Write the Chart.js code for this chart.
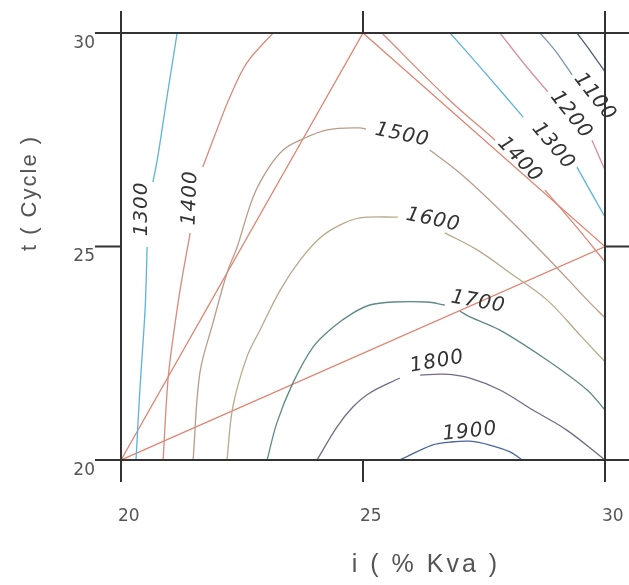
<!DOCTYPE html>
<html>
<head>
<meta charset="utf-8">
<script src="https://cdn.jsdelivr.net/npm/chart.js@4/dist/chart.umd.min.js"></script>
<style>
  html, body { margin: 0; padding: 0; background: #fff; }
  #wrap { width: 629px; height: 585px; position: relative; }
</style>
</head>
<body>
<div id="wrap"><canvas id="c" width="629" height="585"></canvas></div>
<script>
// Axis ticks: current i (% Kva) and weld time t (cycles)
const iTicks = [20, 25, 30];
const tTicks = [20, 25, 30];

// Contour levels
const levels = [1000, 1100, 1200, 1300, 1400, 1500, 1600, 1700, 1800, 1900];

// Contour paths (i, t). null = break in the line where the level label sits.
const c1000_i = [29.42, 29.71, 30.00];
const c1000_t = [30.00, 29.56, 29.09];

const c1100_i = [28.66, 28.99, 29.32];
const c1100_t = [30.00, 29.56, 29.02];

const c1200_i = [27.83, 28.35, 28.82, null, 29.73, 30.00];
const c1200_t = [30.00, 29.25, 28.62, null, 27.49, 26.79];

const c1300a_i = [26.80, 27.56, 28.31, null, 29.42, 30.00];
const c1300a_t = [30.00, 29.02, 28.03, null, 26.86, 25.69];

const c1300b_i = [21.16, 20.95, 20.76, 20.66, null, 20.54, 20.50, 20.39, 20.31];
const c1300b_t = [30.00, 28.50, 27.10, 26.51, null, 24.99, 23.58, 21.64, 20.00];

const c1400a_i = [25.39, 26.74, 27.73, null, 28.76, 29.38, 30.00];
const c1400a_t = [30.00, 28.48, 27.49, null, 26.32, 25.50, 24.64];

const c1400b_i = [23.14, 22.60, 22.25, 21.98, 21.69, null, 21.43, 21.22, 21.07, 20.97, 20.87];
const c1400b_t = [30.00, 29.30, 28.50, 27.73, 26.86, null, 25.32, 23.98, 22.81, 21.87, 20.00];

const c1500_i = [21.49, 21.63, 21.90, 22.19, 22.40, 22.73, 23.02, 23.35, 23.70, 24.26, 24.94, 25.06, null, 26.38, 27.00, 27.83, 28.80, 29.63, 30.00];
const c1500_t = [20.00, 22.04, 23.21, 24.38, 24.99, 26.16, 26.79, 27.26, 27.49, 27.73, 27.78, 27.75, null, 27.26, 26.72, 25.85, 24.75, 23.75, 23.33];

const c1600_i = [22.19, 22.31, 22.60, 22.87, 23.29, 23.70, 24.11, 24.52, 24.94, 25.72, null, 26.69, 27.36, 28.04, 28.80, 29.48, 30.00];
const c1600_t = [20.00, 21.24, 22.41, 23.04, 23.98, 24.68, 25.20, 25.50, 25.67, 25.69, null, 25.32, 24.92, 24.38, 23.75, 22.93, 22.30];

const c1700_i = [23.02, 23.22, 23.55, 23.97, 24.38, 24.79, 25.14, 25.62, 26.32, 26.69, null, 27.00, 27.21, 27.83, 28.80, 29.63, 30.00];
const c1700_t = [20.00, 20.87, 21.80, 22.65, 23.11, 23.44, 23.63, 23.70, 23.70, 23.63, null, 23.49, 23.35, 23.04, 22.34, 21.64, 21.17];

const c1800_i = [24.05, 24.46, 24.79, 25.14, 25.76, null, 26.18, 26.69, 27.21, 27.83, 28.51, 29.21, 30.00];
const c1800_t = [20.00, 20.77, 21.24, 21.57, 21.92, null, 21.99, 22.01, 21.92, 21.64, 21.17, 20.70, 20.00];

const c1900_i = [25.76, 26.43, 26.80, 27.21, 27.62, 28.04, 28.29];
const c1900_t = [20.00, 20.35, 20.42, 20.44, 20.35, 20.19, 20.00];

// Experimental region (triangle)
const region_i = [20, 25, 30, 20];
const region_t = [20, 30, 25, 20];

// Line colours per level
const levelColor = {
  1000: '#4e5e74', 1100: '#7896ac', 1200: '#d88fa8', 1300: '#5cb4da',
  1400: '#d98a7a', 1500: '#bb9c8a', 1600: '#b9a98a', 1700: '#5d8a88',
  1800: '#736a84', 1900: '#4863a0'
};

function pts(xs, ys) {
  return xs.map((x, k) => (x === null ? { x: null, y: null } : { x: x, y: ys[k] }));
}

const contours = [
  { level: 1000, i: c1000_i, t: c1000_t },
  { level: 1100, i: c1100_i, t: c1100_t },
  { level: 1200, i: c1200_i, t: c1200_t },
  { level: 1300, i: c1300a_i, t: c1300a_t },
  { level: 1300, i: c1300b_i, t: c1300b_t },
  { level: 1400, i: c1400a_i, t: c1400a_t },
  { level: 1400, i: c1400b_i, t: c1400b_t },
  { level: 1500, i: c1500_i, t: c1500_t },
  { level: 1600, i: c1600_i, t: c1600_t },
  { level: 1700, i: c1700_i, t: c1700_t },
  { level: 1800, i: c1800_i, t: c1800_t },
  { level: 1900, i: c1900_i, t: c1900_t }
];

const datasets = contours.map(c => ({
  label: String(c.level),
  data: pts(c.i, c.t),
  showLine: true,
  borderColor: levelColor[c.level],
  borderWidth: 1.3,
  pointRadius: 0,
  tension: 0.35,
  spanGaps: false
}));

datasets.push({
  label: 'region',
  data: pts(region_i, region_t),
  showLine: true,
  borderColor: '#e2826f',
  borderWidth: 1.3,
  pointRadius: 0,
  tension: 0
});

// Level labels placed on the contours: [level, i, t, rotation in degrees]
const labelPlacement = [
  [1100, 29.79, 28.50, 52],
  [1200, 29.30, 28.08, 52],
  [1300, 28.93, 27.35, 50],
  [1400, 28.24, 27.03, 46],
  [1500, 25.81, 27.61, 12],
  [1600, 26.45, 25.62, 12],
  [1700, 27.38, 23.70, 10],
  [1800, 26.53, 22.30, -10],
  [1900, 27.21, 20.66, -6],
  [1300, 20.43, 25.88, -90],
  [1400, 21.43, 26.14, -88]
];

const framePlugin = {
  id: 'frame',
  afterDatasetsDraw(chart) {
    const ctx = chart.ctx;
    const xs = chart.scales.x, ys = chart.scales.y;
    const W = chart.width;

    // contour level labels
    ctx.save();
    ctx.fillStyle = '#333';
    ctx.font = 'italic 20px "DejaVu Sans"';
    ctx.letterSpacing = '1px';
    ctx.textAlign = 'center';
    ctx.textBaseline = 'middle';
    labelPlacement.forEach(([lv, i, t, a]) => {
      ctx.save();
      ctx.translate(xs.getPixelForValue(i), ys.getPixelForValue(t));
      ctx.rotate(a * Math.PI / 180);
      ctx.fillText(String(lv), 0, 0);
      ctx.restore();
    });
    ctx.restore();

    // frame and tick lines
    const L = xs.getPixelForValue(iTicks[0]);
    const R = xs.getPixelForValue(iTicks[iTicks.length - 1]);
    const T = ys.getPixelForValue(tTicks[tTicks.length - 1]);
    const B = ys.getPixelForValue(tTicks[0]);
    ctx.save();
    ctx.strokeStyle = '#333';
    ctx.lineWidth = 2;
    ctx.beginPath();
    tTicks.forEach(v => {
      const y = ys.getPixelForValue(v);
      if (v === tTicks[0] || v === tTicks[tTicks.length - 1]) {
        ctx.moveTo(L - 26, y); ctx.lineTo(W, y);
      } else {
        ctx.moveTo(L - 26, y); ctx.lineTo(L, y);
        ctx.moveTo(R, y); ctx.lineTo(W, y);
      }
    });
    iTicks.forEach(v => {
      const x = xs.getPixelForValue(v);
      if (v === iTicks[0] || v === iTicks[iTicks.length - 1]) {
        ctx.moveTo(x, T - 22); ctx.lineTo(x, B + 22);
      } else {
        ctx.moveTo(x, T - 22); ctx.lineTo(x, T);
        ctx.moveTo(x, B); ctx.lineTo(x, B + 22);
      }
    });
    ctx.stroke();

    // tick labels
    ctx.fillStyle = '#555';
    ctx.font = '17px "DejaVu Sans"';
    ctx.textAlign = 'right';
    ctx.textBaseline = 'top';
    tTicks.forEach(v => ctx.fillText(String(v), L - 26, ys.getPixelForValue(v) + 2));
    ctx.textAlign = 'left';
    iTicks.forEach(v => ctx.fillText(String(v), xs.getPixelForValue(v) - 3, B + 48));

    // axis titles
    ctx.fillStyle = '#555';
    ctx.font = '22px "Liberation Sans"';
    ctx.letterSpacing = '2px';
    ctx.textAlign = 'center';
    ctx.textBaseline = 'middle';
    ctx.save();
    ctx.translate(L - 91, T + 160);
    ctx.rotate(-Math.PI / 2);
    ctx.fillText('t ( Cycle )', 0, 0);
    ctx.restore();
    ctx.font = '25px "Liberation Sans"';
    ctx.letterSpacing = '3px';
    ctx.fillText('i ( % Kva )', L + 305, B + 105);
    ctx.restore();
  }
};

new Chart(document.getElementById('c'), {
  type: 'scatter',
  data: { datasets: datasets },
  options: {
    responsive: false,
    animation: false,
    layout: { padding: { left: 121, right: 24, top: 33, bottom: 125 } },
    plugins: { legend: { display: false }, tooltip: { enabled: false } },
    scales: {
      x: { type: 'linear', min: 20, max: 30, display: false },
      y: { type: 'linear', min: 20, max: 30, display: false }
    }
  },
  plugins: [framePlugin]
});
</script>
</body>
</html>
